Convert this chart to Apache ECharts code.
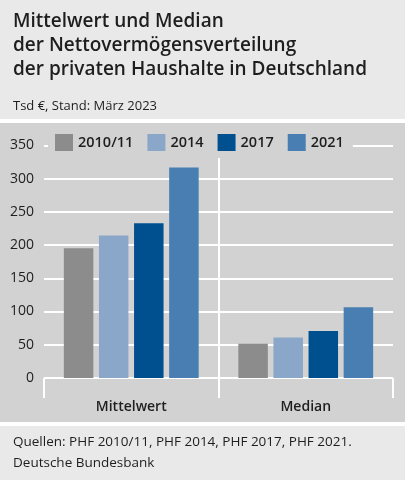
<!DOCTYPE html>
<html>
<head>
<meta charset="utf-8">
<script src="https://cdn.jsdelivr.net/npm/echarts@6/dist/echarts.min.js"></script>
<style>
html,body{margin:0;padding:0;background:#fff;}
#c{width:405px;height:480px;}
</style>
</head>
<body>
<div id="c"></div>
<script>
const titleLines = ['Mittelwert und Median', 'der Nettovermögensverteilung', 'der privaten Haushalte in Deutschland'];
const subtitle = 'Tsd €, Stand: März 2023';
const categories = ['Mittelwert', 'Median'];
const seriesNames = ['2010/11', '2014', '2017', '2021'];
const values2010 = [195.2, 51.4];
const values2014 = [214.5, 60.8];
const values2017 = [232.8, 70.8];
const values2021 = [316.5, 106.6];
const yTicks = [0, 50, 100, 150, 200, 250, 300, 350];
const footerLines = ['Quellen: PHF 2010/11, PHF 2014, PHF 2017, PHF 2021.', 'Deutsche Bundesbank'];

const colors = ['#8c8c8c', '#8aa7ca', '#00508f', '#487eb2'];
const allValues = [values2010, values2014, values2017, values2021];
const FONT = '"Open Sans", "Noto Sans", sans-serif';
const TXT = '#1e1e1e';

const chart = echarts.init(document.getElementById('c'), null, {renderer: 'canvas'});
const series = seriesNames.map((n, i) => ({
  name: n, type: 'bar', data: allValues[i], xAxisIndex: 0, yAxisIndex: 0,
  barWidth: 29.5, barGap: '19%',
  itemStyle: {color: colors[i]}
}));

chart.setOption({
  backgroundColor: '#ffffff',
  animation: false,
  textStyle: {fontFamily: FONT},
  graphic: [
    {type: 'rect', shape: {x: 0, y: 0, width: 405, height: 119}, style: {fill: '#e9e9e9'}, z: -10},
    {type: 'rect', shape: {x: 0, y: 123, width: 405, height: 299}, style: {fill: '#d2d2d2'}, z: -10},
    {type: 'rect', shape: {x: 0, y: 426, width: 405, height: 54}, style: {fill: '#e9e9e9'}, z: -10},
    {type: 'text', left: 13, top: 432, style: {text: footerLines.join('\n'), font: '13.5px ' + FONT, fill: TXT, lineHeight: 21}}
  ],
  title: [
    {text: titleLines.join('\n'), left: 13, top: 10, padding: 0,
     textStyle: {fontFamily: FONT, fontSize: 19, fontWeight: 600, color: TXT, lineHeight: 24}},
    {text: subtitle, left: 13, top: 98, padding: 0,
     textStyle: {fontFamily: FONT, fontSize: 13, fontWeight: 'normal', color: TXT, lineHeight: 17}}
  ],
  legend: {
    data: seriesNames, left: 48, top: 127, icon: 'rect',
    itemWidth: 18, itemHeight: 17, itemGap: 14,
    padding: [7, 9, 7, 7],
    backgroundColor: '#d2d2d2',
    textStyle: {fontFamily: FONT, fontSize: 14.5, fontWeight: 600, color: TXT}
  },
  grid: [
    {left: 44, right: 12, top: 145.3, bottom: 102, containLabel: false},
    {left: 44, right: 12, top: 378, height: 14, containLabel: false}
  ],
  xAxis: [
    {type: 'category', data: categories, gridIndex: 0, offset: 14,
     axisLine: {show: false},
     axisTick: {show: true, length: 20, lineStyle: {color: '#ffffff', width: 2}},
     axisLabel: {margin: 8, fontFamily: FONT, fontSize: 14, fontWeight: 600, color: TXT},
     splitLine: {show: true, showMinLine: false, showMaxLine: false, lineStyle: {color: '#ffffff', width: 2}}},
    {type: 'category', data: categories, gridIndex: 1,
     axisLine: {show: false}, axisTick: {show: false}, axisLabel: {show: false},
     splitLine: {show: true, showMinLine: false, showMaxLine: false, lineStyle: {color: '#ffffff', width: 2}}}
  ],
  yAxis: [
    {type: 'value', gridIndex: 0, min: yTicks[0], max: yTicks[yTicks.length - 1], interval: yTicks[1] - yTicks[0],
     axisLine: {show: false}, axisTick: {show: false},
     axisLabel: {margin: 10, fontFamily: FONT, fontSize: 14, color: TXT},
     splitLine: {show: true, lineStyle: {color: '#ffffff', width: 2}}},
    {type: 'value', gridIndex: 1, show: false, splitLine: {show: false}}
  ],
  series: series
});
</script>
</body>
</html>
